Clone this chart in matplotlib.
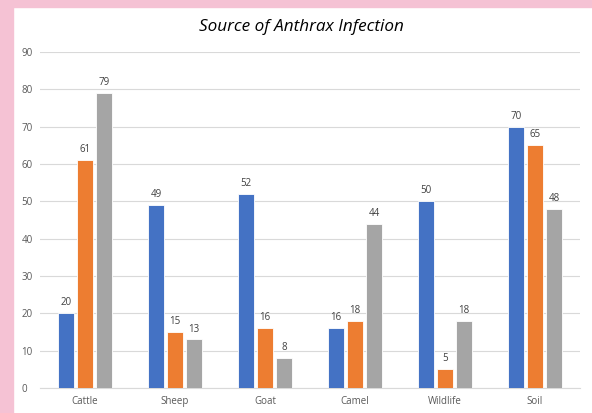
import matplotlib.pyplot as plt
import numpy as np
from matplotlib.patches import Rectangle

categories = ["Cattle", "Sheep", "Goat", "Camel", "Wildlife", "Soil"]
series_a = [20, 49, 52, 16, 50, 70]
series_b = [61, 15, 16, 18, 5, 65]
series_c = [79, 13, 8, 44, 18, 48]
colors = ["#4472C4", "#ED7D31", "#A5A5A5"]

plt.rcParams['font.family'] = ['Open Sans', 'DejaVu Sans']

fig = plt.figure(figsize=(5.92, 4.13), dpi=100)
fig.patch.set_facecolor("white")

# pink frame along top and left edges
fig.patches.append(Rectangle((0, 1 - 7 / 413), 1, 7 / 413, transform=fig.transFigure,
                             color="#F5C2D4", zorder=0))
fig.patches.append(Rectangle((0, 0), 13 / 592, 1, transform=fig.transFigure,
                             color="#F5C2D4", zorder=0))

ax = fig.add_axes([40 / 592, 1 - 388 / 413, 540 / 592, (388 - 52) / 413])

x = np.arange(len(categories))
w = 0.178
step = 0.211
for i, (vals, c) in enumerate(zip([series_a, series_b, series_c], colors)):
    pos = x + (i - 1) * step
    ax.bar(pos, vals, width=w, color=c, edgecolor="white", linewidth=0.6, zorder=3)
    for xp, v in zip(pos, vals):
        ax.text(xp, v + 1.3, str(v), ha="center", va="bottom", fontsize=7, color="#404040")

ax.set_xlim(-0.5, len(categories) - 0.5)
ax.set_ylim(0, 90)
ax.set_yticks(range(0, 91, 10))
ax.yaxis.grid(True, color="#D9D9D9", linewidth=0.8, zorder=0)
ax.set_axisbelow(True)
for s in ["top", "right", "left"]:
    ax.spines[s].set_visible(False)
ax.spines["bottom"].set_color("#D9D9D9")
ax.spines["bottom"].set_linewidth(0.8)
ax.tick_params(axis="both", length=0, labelsize=7, colors="#595959")
ax.tick_params(axis="x", pad=6)
ax.set_xticks(x)
ax.set_xticklabels(categories)
for lbl in ax.get_yticklabels():
    lbl.set_horizontalalignment("left")
ax.yaxis.set_tick_params(pad=13.5)

fig.text(301 / 592, 1 - 27 / 413, "Source of Anthrax Infection", ha="center", va="center",
         fontsize=12.3, style="italic", color="#000000")

fig.savefig("out.png", dpi=100)
